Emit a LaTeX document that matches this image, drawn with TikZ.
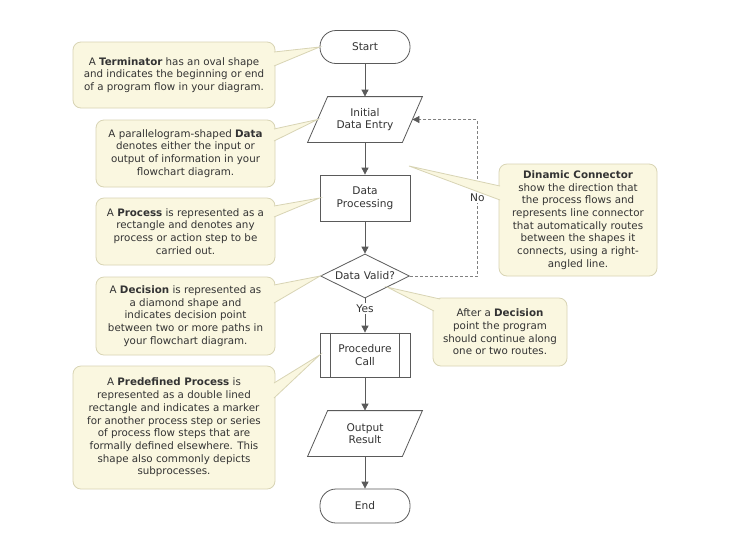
\documentclass[tikz,border=0pt]{standalone}
\usepackage{fontspec}
\setmainfont{DejaVu Sans}
\usetikzlibrary{arrows.meta,shapes.geometric,calc}
\definecolor{linec}{HTML}{5A5A5A}
\definecolor{dashc}{HTML}{808080}
\definecolor{callfill}{HTML}{FAF7E0}
\definecolor{callline}{HTML}{D8D4B4}
\definecolor{txt}{HTML}{333333}
\begin{document}
\begin{tikzpicture}[x=1pt,y=-1pt,
  every node/.style={text=txt},
  flow/.style={draw=linec, line width=0.8pt, fill=white, minimum width=90pt,
    font=\fontsize{10.6}{12.7}\selectfont, align=center, inner sep=0pt},
  termbox/.style={flow, rounded corners=16pt, minimum height=33pt},
  procbox/.style={flow, minimum height=46pt},
  databox/.style={flow, draw=none, fill=none, minimum width=94pt, minimum height=45pt},
  decbox/.style={flow, diamond, shape aspect=2, minimum width=89pt, minimum height=44pt},
  callbox/.style={draw=callline, fill=callfill, line width=0.8pt, rounded corners=8pt,
    align=center, inner sep=0pt, font=\fontsize{10.3}{12.7}\selectfont},
  wedgefill/.style={fill=callfill},
  wedgeline/.style={draw=callline, line width=0.8pt},
  flowarrow/.style={draw=linec, line width=0.8pt, -{Triangle[length=7pt,width=7pt]}},
  dasharrow/.style={draw=dashc, line width=0.8pt, dash pattern=on 3pt off 2pt,
    -{Triangle[length=7pt,width=7pt,color=linec]}},
  edgelabel/.style={fill=white, inner sep=1.5pt, font=\fontsize{10.6}{12.7}\selectfont},
  parashape/.style={draw=linec, line width=0.8pt}
]
\fill[white] (0,0) rectangle (735,547);
\useasboundingbox (0,0) rectangle (735,547);

% flowchart nodes
\node[termbox] (start) at (365,47) {Start};
\node[databox] (init) at (365,119.5) {Initial\\Data Entry};
\draw[parashape] ($(init.north west)+(10,0)$) -- ($(init.north east)+(10,0)$)
  -- ($(init.south east)+(-10,0)$) -- ($(init.south west)+(-10,0)$) -- cycle;
\node[procbox] (proc) at (365,198) {Data\\Processing};
\node[decbox] (valid) at (365,276) {Data Valid?};
\node[flow, minimum height=44pt] (pcall) at (365,355) {Procedure\\Call};
\draw[parashape] ($(pcall.north west)+(11,0)$) -- ($(pcall.south west)+(11,0)$);
\draw[parashape] ($(pcall.north east)+(-11,0)$) -- ($(pcall.south east)+(-11,0)$);
\node[databox] (out) at (365,433.5) {Output\\Result};
\draw[parashape] ($(out.north west)+(10,0)$) -- ($(out.north east)+(10,0)$)
  -- ($(out.south east)+(-10,0)$) -- ($(out.south west)+(-10,0)$) -- cycle;
\node[termbox, minimum height=34pt] (end) at (365,506) {End};

% connectors
\draw[flowarrow] (start) -- (init);
\draw[flowarrow] (init) -- (proc);
\draw[flowarrow] (proc) -- (valid);
\draw[flowarrow] (valid) -- node[pos=0.3, edgelabel]{Yes} (pcall);
\draw[flowarrow] (pcall) -- (out);
\draw[flowarrow] (out) -- (end);
\draw[dasharrow] (valid.east) -- ++(67.5,0) |- node[pos=0.25, edgelabel]{No} (init.east);

% callouts
\node[callbox, minimum width=202pt, minimum height=66pt] (cterm) at (174,75)
  {A \textbf{Terminator} has an oval shape\\and indicates the beginning or end\\of a program flow in your diagram.};
\fill[wedgefill] (274,52) -- (start.west) -- (274,66) -- cycle;
\draw[wedgeline] (274,52) -- (start.west) -- (274,66);

\node[callbox, minimum width=179pt, minimum height=67pt] (cdata) at (185.5,153.5)
  {A parallelogram-shaped \textbf{Data}\\denotes either the input or\\output of information in your\\flowchart diagram.};
\fill[wedgefill] (274,129) -- (init.west) -- (274,141) -- cycle;
\draw[wedgeline] (274,129) -- (init.west) -- (274,141);

\node[callbox, minimum width=179pt, minimum height=67pt] (cproc) at (185.5,231.5)
  {A \textbf{Process} is represented as a\\rectangle and denotes any\\process or action step to be\\carried out.};
\fill[wedgefill] (274,206) -- (proc.west) -- (274,217) -- cycle;
\draw[wedgeline] (274,206) -- (proc.west) -- (274,217);

\node[callbox, minimum width=179pt, minimum height=78pt] (cdec) at (185.5,316)
  {A \textbf{Decision} is represented as\\a diamond shape and\\indicates decision point\\between two or more paths in\\your flowchart diagram.};
\fill[wedgefill] (274,285) -- (valid.west) -- (274,303) -- cycle;
\draw[wedgeline] (274,285) -- (valid.west) -- (274,303);

\node[callbox, minimum width=202pt, minimum height=123pt] (cpre) at (174,427.5)
  {A \textbf{Predefined Process} is\\represented as a double lined\\rectangle and indicates a marker\\for another process step or series\\of process flow steps that are\\formally defined elsewhere. This\\shape also commonly depicts\\subprocesses.};
\fill[wedgefill] (274,383) -- (pcall.west) -- (274,398) -- cycle;
\draw[wedgeline] (274,383) -- (pcall.west) -- (274,398);

\coordinate (dyntip) at (409,166);
\node[callbox, minimum width=158pt, minimum height=112pt] (cdyn) at (578,220)
  {\textbf{Dinamic Connector}\\show the direction that\\the process flows and\\represents line connector\\that automatically routes\\between the shapes it\\connects, using a right-\\angled line.};
\fill[wedgefill] (500,186) -- (dyntip) -- (500,200) -- cycle;
\draw[wedgeline] (500,186) -- (dyntip) -- (500,200);

\node[callbox, minimum width=134pt, minimum height=68pt] (cafter) at (500,332)
  {After a \textbf{Decision}\\point the program\\should continue along\\one or two routes.};
\fill[wedgefill] (440,299) -- (valid.south east) -- (434,311) -- (438,302) -- cycle;
\draw[wedgeline] (440,299) -- (valid.south east) -- (434,311);
\end{tikzpicture}
\end{document}
